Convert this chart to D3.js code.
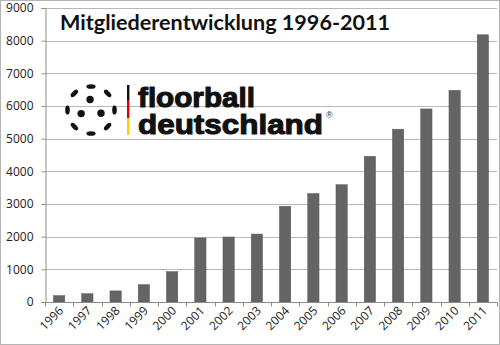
<!DOCTYPE html>
<html>
<head>
<meta charset="utf-8">
<script src="https://cdn.jsdelivr.net/npm/d3@7"></script>
<style>
  html, body { margin: 0; padding: 0; background: #fff; }
  svg { display: block; }
</style>
</head>
<body>
<svg id="chart" width="500" height="345"></svg>
<script>
// Membership figures of Floorball Deutschland, 1996–2011
const years = ["1996","1997","1998","1999","2000","2001","2002","2003",
               "2004","2005","2006","2007","2008","2009","2010","2011"];
const members = [195, 255, 340, 530, 930, 1960, 1990, 2080,
                 2930, 3320, 3590, 4460, 5290, 5910, 6480, 8180];
const yTicks = [0, 1000, 2000, 3000, 4000, 5000, 6000, 7000, 8000, 9000];
const title = "Mitgliederentwicklung 1996-2011";

const W = 500, H = 345;
const margin = { left: 45, right: 3, top: 8, bottom: 43 };

const svg = d3.select("#chart");

// outer frame
svg.append("rect")
  .attr("x", 0.5).attr("y", 0.5)
  .attr("width", W - 1).attr("height", H - 1)
  .attr("fill", "#fff").attr("stroke", "#b4b4b4");

const x = d3.scaleBand()
  .domain(years)
  .range([margin.left, W - margin.right])
  .paddingInner(0.6).paddingOuter(0.3);

const y = d3.scaleLinear()
  .domain([0, 9000])
  .range([H - margin.bottom, margin.top]);

// horizontal gridlines
svg.append("g")
  .selectAll("line")
  .data(yTicks.filter(d => d > 0))
  .join("line")
  .attr("x1", margin.left).attr("x2", W - margin.right)
  .attr("y1", d => Math.round(y(d)) + 0.5).attr("y2", d => Math.round(y(d)) + 0.5)
  .attr("stroke", "#b8b8b8").attr("stroke-width", 1);

// bars
svg.append("g")
  .selectAll("rect")
  .data(years.map((yr, i) => ({ yr, v: members[i] })))
  .join("rect")
  .attr("x", d => x(d.yr))
  .attr("width", x.bandwidth())
  .attr("y", d => y(d.v))
  .attr("height", d => y(0) - y(d.v))
  .attr("fill", "#646464")
  .attr("stroke", "#5a5a5a").attr("stroke-width", 0.5);

// y axis
const yAxis = d3.axisLeft(y).tickValues(yTicks).tickSize(4).tickPadding(8).tickFormat(d3.format("d"));
const gy = svg.append("g")
  .attr("transform", `translate(${margin.left + 0.5},0)`)
  .call(yAxis);
gy.select(".domain").attr("stroke", "#8c8c8c");
gy.selectAll(".tick line").attr("stroke", "#8c8c8c");
gy.selectAll(".tick text")
  .attr("font-family", "'Open Sans', sans-serif")
  .attr("font-size", 12)
  .attr("fill", "#222");

// x axis: ticks at category boundaries
const xAxisY = Math.round(y(0)) + 0.5;
const gx = svg.append("g");
gx.append("line")
  .attr("x1", margin.left).attr("x2", W - margin.right)
  .attr("y1", xAxisY).attr("y2", xAxisY)
  .attr("stroke", "#8c8c8c");
const step = x.step();
const boundaries = years.map(yr => x(yr) - (step - x.bandwidth()) / 2);
boundaries.push(W - margin.right);
gx.selectAll("line.tk")
  .data(boundaries)
  .join("line")
  .attr("class", "tk")
  .attr("x1", d => Math.round(d) + 0.5).attr("x2", d => Math.round(d) + 0.5)
  .attr("y1", xAxisY).attr("y2", xAxisY + 4)
  .attr("stroke", "#8c8c8c");
gx.selectAll("text")
  .data(years)
  .join("text")
  .attr("transform", d => `translate(${x(d) + x.bandwidth() / 2 + 5},${xAxisY + 9}) rotate(-45)`)
  .attr("text-anchor", "end")
  .attr("font-family", "'Open Sans', sans-serif")
  .attr("font-size", 12)
  .attr("fill", "#222")
  .text(d => d);

// title
svg.append("text")
  .attr("x", 60).attr("y", 30)
  .attr("font-family", "Lato, sans-serif")
  .attr("font-weight", "bold")
  .attr("font-size", 21.6)
  .attr("fill", "#111")
  .text(title);

// floorball deutschland logo
const logo = svg.append("g");
const cx = 91, cy = 110;
const rad = a => a * Math.PI / 180;
// ball: ring of elongated holes plus three inner holes
const ringAngles = d3.range(8).map(i => -90 + i * 45);
logo.selectAll("ellipse.ring")
  .data(ringAngles)
  .join("ellipse")
  .attr("class", "ring")
  .attr("cx", a => cx + 23.5 * Math.cos(rad(a)))
  .attr("cy", a => cy + 23.5 * Math.sin(rad(a)))
  .attr("rx", 4.6).attr("ry", 2.3)
  .attr("transform", a => `rotate(${a + 90},${cx + 23.5 * Math.cos(rad(a))},${cy + 23.5 * Math.sin(rad(a))})`)
  .attr("fill", "#111");
const innerAngles = [-95, 160, 18];
logo.selectAll("circle.inner")
  .data(innerAngles)
  .join("circle")
  .attr("class", "inner")
  .attr("cx", a => cx + 10.5 * Math.cos(rad(a)))
  .attr("cy", a => cy + 10.5 * Math.sin(rad(a)))
  .attr("r", 3.7)
  .attr("fill", "#111");

// black-red-gold stripe
const stripe = [["#111", 85, 100], ["#dd0000", 100, 118], ["#ffce00", 118, 135]];
logo.selectAll("rect.stripe")
  .data(stripe)
  .join("rect")
  .attr("class", "stripe")
  .attr("x", 127).attr("width", 2.4)
  .attr("y", d => d[1]).attr("height", d => d[2] - d[1])
  .attr("fill", d => d[0]);

const wordmark = [
  { t: "floorball", y: 106.5, len: 117 },
  { t: "deutschland", y: 134, len: 185 }
];
logo.selectAll("text.word")
  .data(wordmark)
  .join("text")
  .attr("class", "word")
  .attr("x", 138).attr("y", d => d.y)
  .attr("font-family", "'Liberation Sans', Arial, sans-serif")
  .attr("font-weight", "bold")
  .attr("font-size", 28)
  .attr("textLength", d => d.len).attr("lengthAdjust", "spacingAndGlyphs")
  .attr("fill", "#111")
  .attr("stroke", "#111").attr("stroke-width", 1.1).attr("stroke-linejoin", "round")
  .text(d => d.t);
logo.append("text")
  .attr("x", 326).attr("y", 118)
  .attr("font-family", "'Liberation Sans', Arial, sans-serif")
  .attr("font-size", 9)
  .attr("fill", "#333")
  .text("®");
</script>
</body>
</html>
